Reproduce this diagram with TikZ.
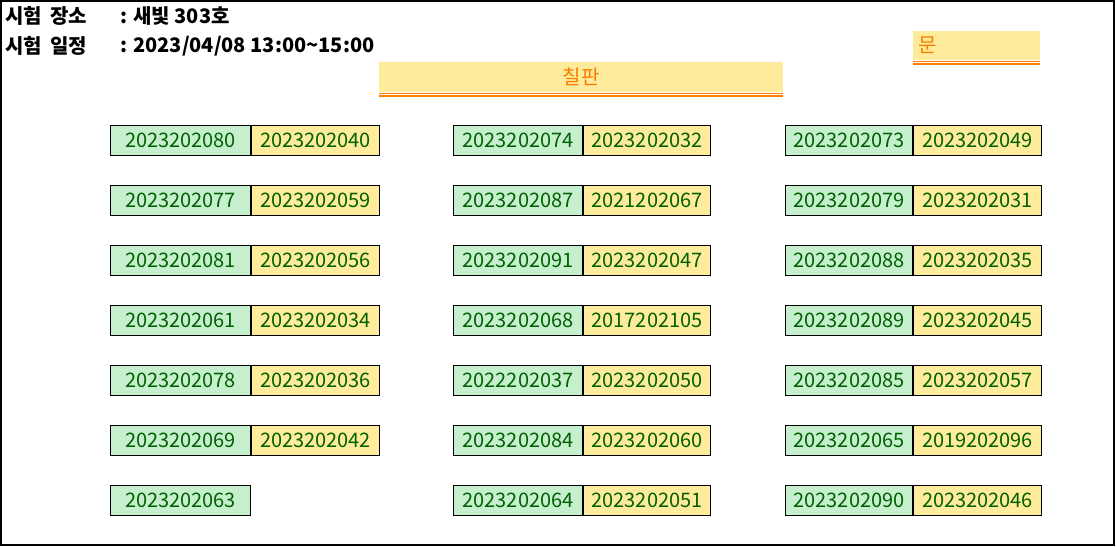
\documentclass[tikz,border=0pt]{standalone}
\usepackage{fontspec}
\setmainfont{Noto Sans CJK KR}

\definecolor{goodfill}{HTML}{C6EFCE}
\definecolor{goodtext}{HTML}{006100}
\definecolor{neutralfill}{HTML}{FFEB9C}
\definecolor{linktext}{HTML}{FA7D00}
\definecolor{linkline}{HTML}{FF8001}

\tikzset{
	seat/.style = {draw = black, line width = 1pt, minimum height = 30pt, inner sep = 0pt, anchor = north west, text = goodtext, font = \fontsize{20}{22}\selectfont},
	frontseat/.style = {seat, fill = goodfill},
	backseat/.style = {seat, fill = neutralfill},
	header/.style = {anchor = west, inner sep = 0pt, font = \fontsize{20}{22}\selectfont\bfseries},
	linkcell/.style = {fill = neutralfill, inner sep = 0pt, anchor = north west, text = linktext, font = \fontsize{20}{22}\selectfont},
	linkrule/.style = {draw = linkline, line width = 1.5pt}
}

\begin{document}
\begin{tikzpicture}[x = 1pt, y = -1pt]
	 \useasboundingbox (0, 0) rectangle (1116, 546);
	 \draw[line width = 2pt] (1, 0.5) rectangle (1114, 544.5);
	 
	 % exam info
	 \node[header] (place) at (5, 16) {시험\hspace{8pt}장소};
	 \node[header] (placeval) at (120, 16) {: 새빛 303호};
	 \node[header] (date) at (5, 46) {시험\hspace{8pt}일정};
	 \node[header] (dateval) at (120, 46) {: 2023/04/08 13:00\textasciitilde15:00};
	 
	 % board and door
	 \node[linkcell, minimum width = 404pt, minimum height = 30pt] (board) at (379, 62) {칠판};
	 \draw[linkrule] ([yshift = -1pt] board.south west) -- ([yshift = -1pt] board.south east);
	 \draw[linkrule] ([yshift = -3.5pt] board.south west) -- ([yshift = -3.5pt] board.south east);
	 
	 \node[linkcell, minimum width = 127pt, minimum height = 29pt, text width = 117pt, align = left, inner xsep = 5pt] (door) at (913, 31) {문};
	 \draw[linkrule] ([yshift = -1pt] door.south west) -- ([yshift = -1pt] door.south east);
	 \draw[linkrule] ([yshift = -3.5pt] door.south west) -- ([yshift = -3.5pt] door.south east);
	 
	 % seats, column 1
	 \foreach \y/\a/\b [count = \r] in {125/2023202080/2023202040, 185/2023202077/2023202059, 245/2023202081/2023202056, 305/2023202061/2023202034, 365/2023202078/2023202036, 425/2023202069/2023202042}
	 {
	 \node[frontseat, minimum width = 140pt] (a\r) at (110, \y) {\a};
	 \node[backseat, minimum width = 128pt] (b\r) at (a\r.north east) {\b};
	 }
	 \node[frontseat, minimum width = 140pt] (a7) at (110, 485) {2023202063};
	 
	 % seats, column 2
	 \foreach \y/\a/\b [count = \r] in {125/2023202074/2023202032, 185/2023202087/2021202067, 245/2023202091/2023202047, 305/2023202068/2017202105, 365/2022202037/2023202050, 425/2023202084/2023202060, 485/2023202064/2023202051}
	 {
	 \node[frontseat, minimum width = 129pt] (c\r) at (453, \y) {\a};
	 \node[backseat, minimum width = 127pt] (d\r) at (c\r.north east) {\b};
	 }
	 
	 % seats, column 3
	 \foreach \y/\a/\b [count = \r] in {125/2023202073/2023202049, 185/2023202079/2023202031, 245/2023202088/2023202035, 305/2023202089/2023202045, 365/2023202085/2023202057, 425/2023202065/2019202096, 485/2023202090/2023202046}
	 {
	 \node[frontseat, minimum width = 127pt] (e\r) at (785, \y) {\a};
	 \node[backseat, minimum width = 128pt] (f\r) at (e\r.north east) {\b};
	 }
\end{tikzpicture}
\end{document}
